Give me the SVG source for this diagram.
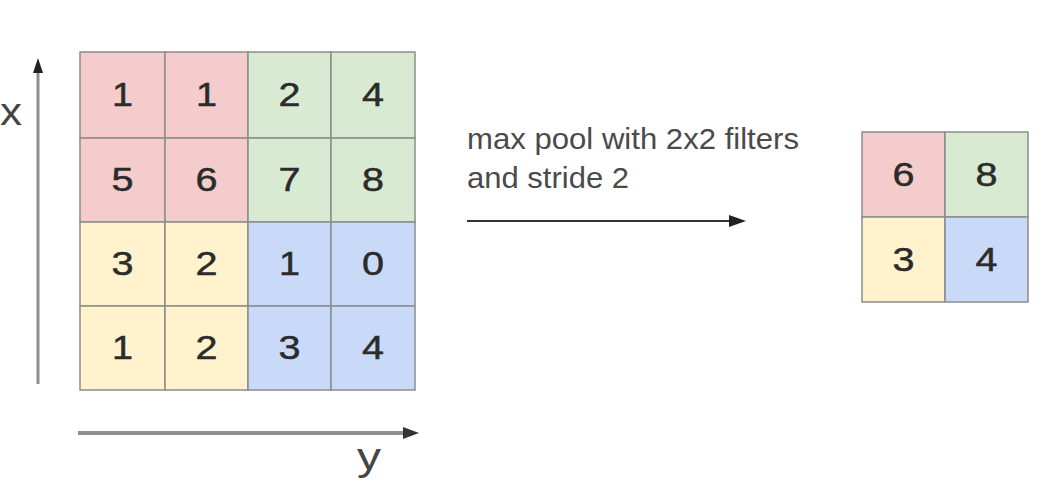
<svg xmlns="http://www.w3.org/2000/svg" width="1046" height="492" viewBox="0 0 1046 492">
<style>
.r{fill:#f4cccc}.g{fill:#d9ead3}.yl{fill:#fff2cc}.b{fill:#c9daf8}
.cell{stroke:#8c8c8c;stroke-width:1.5}
.d{font-family:"Liberation Sans",Arial,sans-serif;font-size:34px;fill:#2b2b2b;stroke:#2b2b2b;stroke-width:0.5;text-anchor:middle}
.lbl{font-family:"Liberation Sans",Arial,sans-serif;font-size:30px;fill:#4a4a4a}
.ax{font-family:"Liberation Sans",Arial,sans-serif;font-size:38px;fill:#444}
</style>
<rect width="1046" height="492" fill="#fff"/>
<g id="input-grid">
<rect class="cell r" x="80" y="52" width="85" height="86"/>
<rect class="cell r" x="165" y="52" width="83" height="86"/>
<rect class="cell g" x="248" y="52" width="83" height="86"/>
<rect class="cell g" x="331" y="52" width="84" height="86"/>
<rect class="cell r" x="80" y="138" width="85" height="84"/>
<rect class="cell r" x="165" y="138" width="83" height="84"/>
<rect class="cell g" x="248" y="138" width="83" height="84"/>
<rect class="cell g" x="331" y="138" width="84" height="84"/>
<rect class="cell yl" x="80" y="222" width="85" height="84"/>
<rect class="cell yl" x="165" y="222" width="83" height="84"/>
<rect class="cell b" x="248" y="222" width="83" height="84"/>
<rect class="cell b" x="331" y="222" width="84" height="84"/>
<rect class="cell yl" x="80" y="306" width="85" height="84"/>
<rect class="cell yl" x="165" y="306" width="83" height="84"/>
<rect class="cell b" x="248" y="306" width="83" height="84"/>
<rect class="cell b" x="331" y="306" width="84" height="84"/>
<text class="d" x="122.5" y="106" textLength="21" lengthAdjust="spacingAndGlyphs">1</text>
<text class="d" x="206.5" y="106" textLength="21" lengthAdjust="spacingAndGlyphs">1</text>
<text class="d" x="289.5" y="106" textLength="22" lengthAdjust="spacingAndGlyphs">2</text>
<text class="d" x="373" y="106" textLength="22" lengthAdjust="spacingAndGlyphs">4</text>
<text class="d" x="122.5" y="191" textLength="22" lengthAdjust="spacingAndGlyphs">5</text>
<text class="d" x="206.5" y="191" textLength="22" lengthAdjust="spacingAndGlyphs">6</text>
<text class="d" x="289.5" y="191" textLength="22" lengthAdjust="spacingAndGlyphs">7</text>
<text class="d" x="373" y="191" textLength="22" lengthAdjust="spacingAndGlyphs">8</text>
<text class="d" x="122.5" y="275" textLength="22" lengthAdjust="spacingAndGlyphs">3</text>
<text class="d" x="206.5" y="275" textLength="22" lengthAdjust="spacingAndGlyphs">2</text>
<text class="d" x="289.5" y="275" textLength="21" lengthAdjust="spacingAndGlyphs">1</text>
<text class="d" x="373" y="275" textLength="22" lengthAdjust="spacingAndGlyphs">0</text>
<text class="d" x="122.5" y="359" textLength="21" lengthAdjust="spacingAndGlyphs">1</text>
<text class="d" x="206.5" y="359" textLength="22" lengthAdjust="spacingAndGlyphs">2</text>
<text class="d" x="289.5" y="359" textLength="22" lengthAdjust="spacingAndGlyphs">3</text>
<text class="d" x="373" y="359" textLength="22" lengthAdjust="spacingAndGlyphs">4</text>
</g>
<g id="output-grid">
<rect class="cell r" x="862" y="132" width="83" height="85"/>
<rect class="cell g" x="945" y="132" width="83" height="85"/>
<rect class="cell yl" x="862" y="217" width="83" height="85"/>
<rect class="cell b" x="945" y="217" width="83" height="85"/>
<text class="d" x="903.5" y="186" textLength="22" lengthAdjust="spacingAndGlyphs">6</text>
<text class="d" x="986.5" y="186" textLength="22" lengthAdjust="spacingAndGlyphs">8</text>
<text class="d" x="903.5" y="271" textLength="22" lengthAdjust="spacingAndGlyphs">3</text>
<text class="d" x="986.5" y="271" textLength="22" lengthAdjust="spacingAndGlyphs">4</text>
</g>
<g id="label">
<text class="lbl" x="467" y="149" textLength="332" lengthAdjust="spacingAndGlyphs">max pool with 2x2 filters</text>
<text class="lbl" x="467" y="188" textLength="162" lengthAdjust="spacingAndGlyphs">and stride 2</text>
</g>
<g id="axis-labels">
<text class="ax" x="0" y="125" textLength="22" lengthAdjust="spacingAndGlyphs">x</text>
<text class="ax" x="357" y="470" textLength="24" lengthAdjust="spacingAndGlyphs">y</text>
</g>
<g id="connectors">
<line x1="38" y1="384" x2="38" y2="72" stroke="#8f8f8f" stroke-width="3"/>
<path d="M38,58L43,73L33,73z" fill="#222"/>
<line x1="78" y1="433" x2="404" y2="433" stroke="#8f8f8f" stroke-width="4"/>
<path d="M419,433L403,427L403,439z" fill="#333"/>
<line x1="467" y1="221" x2="730" y2="221" stroke="#333" stroke-width="2"/>
<path d="M746,221L729,215L729,227z" fill="#222"/>
</g>
</svg>
